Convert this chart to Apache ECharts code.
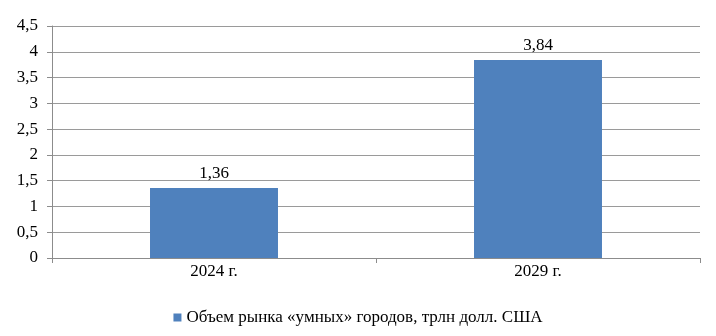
<!DOCTYPE html>
<html><head><meta charset="utf-8">
<script src="https://cdn.jsdelivr.net/npm/echarts@6/dist/echarts.min.js"></script>
<style>html,body{margin:0;padding:0;background:#fff}#c{width:716px;height:336px}</style>
</head><body><div id="c"></div>
<script>
const categories = ['2024 г.', '2029 г.'];
const values = [1.36, 3.84];
const seriesName = 'Объем рынка «умных» городов, трлн долл. США';
const fmt = v => String(v).replace('.', ',');
const font = '"Liberation Serif", "Times New Roman", serif';
const chart = echarts.init(document.getElementById('c'));
chart.setOption({
  animation: false,
  textStyle: { fontFamily: font },
  grid: { left: 52, right: 16, top: 26, bottom: 78 },
  legend: {
    top: 304, left: 'center', itemWidth: 8, itemHeight: 8, icon: 'rect', itemGap: 5,
    textStyle: { fontFamily: font, fontSize: 17, color: '#000' },
    data: [seriesName]
  },
  xAxis: {
    type: 'category', data: categories,
    axisLine: { lineStyle: { color: '#8c8c8c', width: 1 } },
    axisTick: { show: true, length: 5, alignWithLabel: false, lineStyle: { color: '#8c8c8c' } },
    axisLabel: { fontFamily: font, fontSize: 17, color: '#000', margin: 5 }
  },
  yAxis: {
    type: 'value', min: 0, max: 4.5, interval: 0.5,
    axisLine: { show: true, lineStyle: { color: '#8c8c8c', width: 1 } },
    axisTick: { show: true, length: 5, lineStyle: { color: '#8c8c8c' } },
    splitLine: { lineStyle: { color: '#9a9a9a', width: 1 } },
    axisLabel: { fontFamily: font, fontSize: 17, color: '#000', margin: 14, formatter: v => fmt(v) }
  },
  series: [{
    name: seriesName, type: 'bar', data: values, barWidth: '39.5%',
    itemStyle: { color: '#4F81BD' },
    label: { show: true, position: 'top', distance: 6, fontFamily: font, fontSize: 17, color: '#000', formatter: p => fmt(p.value) }
  }]
});
</script></body></html>
